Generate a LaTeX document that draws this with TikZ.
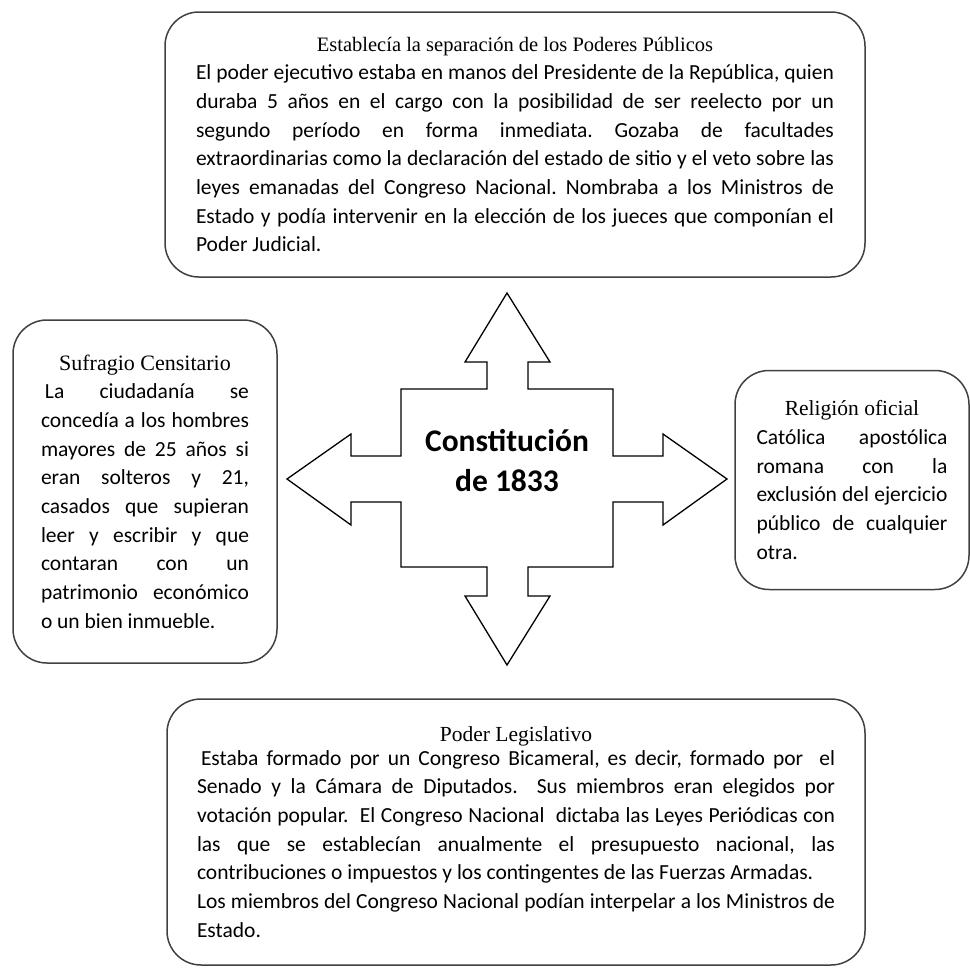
\documentclass[tikz,border=0pt]{standalone}
\usepackage{fontspec}
\setmainfont{Carlito}
\newfontfamily\titfont{Liberation Serif}
\setlength{\parindent}{0pt}
\frenchspacing
\tikzset{
  caja/.style={draw=black!75, line width=1.5pt, rounded corners=34pt,
    align=justify, inner sep=0pt,
    font=\fontsize{21.5}{28.7}\selectfont},
  cruz/.style={draw=black, line width=1.3pt, fill=white, line join=miter},
}
\newcommand{\titulo}[2][21]{{\centering\titfont\fontsize{#1}{28.7}\selectfont #2\par}}

\begin{document}
\begin{tikzpicture}[x=1pt, y=-1pt]
  \useasboundingbox (0,0) rectangle (970,969);

  % flecha central de cuatro puntas
  \draw[cruz] (507,293) -- (550,362) -- (528,362) -- (528,389) -- (613,389)
    -- (613,456) -- (663,456) -- (663,434) -- (727,479) -- (663,525)
    -- (663,502) -- (613,502) -- (613,567) -- (528,567) -- (528,596)
    -- (550,596) -- (507,665) -- (465,596) -- (487,596) -- (487,567)
    -- (401,567) -- (401,502) -- (351,502) -- (351,525) -- (287,479)
    -- (351,434) -- (351,456) -- (401,456) -- (401,389) -- (487,389)
    -- (487,362) -- (465,362) -- cycle;

  \node[align=center, font=\bfseries\fontsize{31.5}{40}\selectfont] (const) at (507,461)
    {Constitución\\de 1833};

  \begin{scope}[every node/.style={caja}]
    \node[minimum width=700pt, minimum height=265pt, text width=638pt] (ejec) at (515,144.5) {%
      \titulo[20.5]{Establecía la separación de los Poderes Públicos}
      El poder ejecutivo estaba en manos del Presidente de la República, quien\linebreak
      duraba 5 años en el cargo con la posibilidad de ser reelecto por un\linebreak
      segundo período en forma inmediata. Gozaba de facultades\linebreak
      extraordinarias como la declaración del estado de sitio y el veto sobre las\linebreak
      leyes emanadas del Congreso Nacional. Nombraba a los Ministros de\linebreak
      Estado y podía intervenir en la elección de los jueces que componían el\linebreak
      Poder Judicial.};
    \node[minimum width=264pt, minimum height=343pt, text width=208pt] (sufr) at (145,491.5) {%
      \titulo[22]{Sufragio Censitario}
      \hspace*{4pt}La ciudadanía se\linebreak
      concedía a los hombres\linebreak
      mayores de 25 años si\linebreak
      eran solteros y 21,\linebreak
      casados que supieran\linebreak
      leer y escribir y que\linebreak
      contaran con un\linebreak
      patrimonio económico\linebreak
      o un bien inmueble.};
    \node[minimum width=234pt, minimum height=219pt, text width=191pt] (reli) at (852,480) {%
      \titulo[21.5]{Religión oficial}
      Católica apostólica\linebreak
      romana con la\linebreak
      exclusión del ejercicio\linebreak
      público de cualquier\linebreak
      otra.};
    \node[minimum width=698pt, minimum height=266pt, text width=638pt] (legi) at (516,832) {%
      \titulo[21.5]{Poder Legislativo}\vspace{-5pt}
      \hspace*{4pt}Estaba formado por un Congreso Bicameral, es decir, formado por\ \ el\linebreak
      Senado y la Cámara de Diputados.\ \ Sus miembros eran elegidos por\linebreak
      votación popular.\ \ El Congreso Nacional\ \ dictaba las Leyes Periódicas con\linebreak
      las que se establecían anualmente el presupuesto nacional, las\linebreak
      contribuciones o impuestos y los contingentes de las Fuerzas Armadas.\par
      Los miembros del Congreso Nacional podían interpelar a los Ministros de\linebreak
      Estado.};
  \end{scope}

\end{tikzpicture}
\end{document}
